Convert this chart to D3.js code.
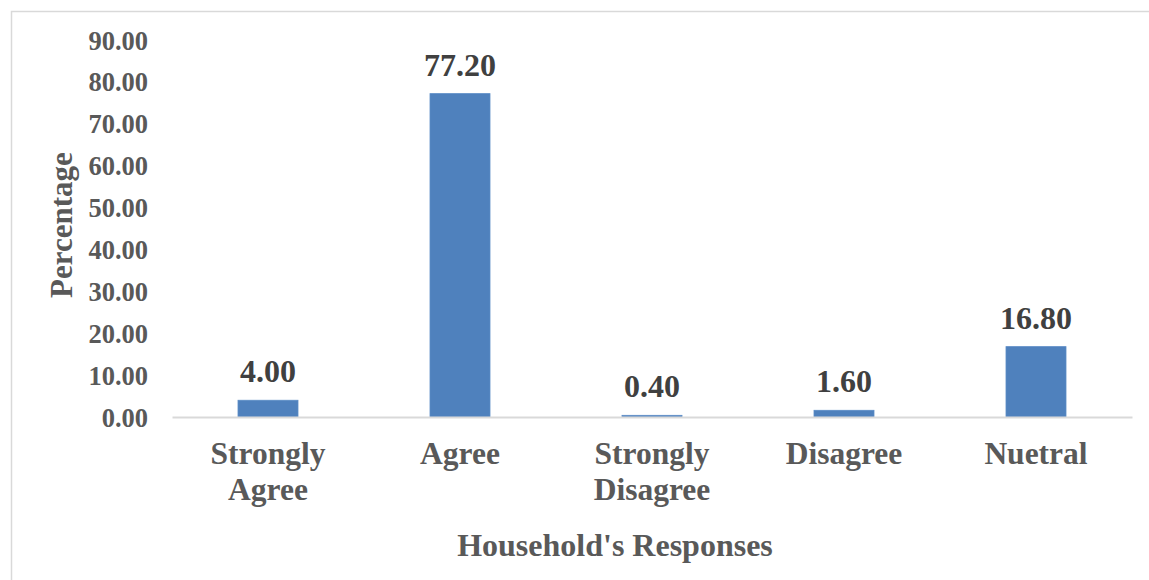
<!DOCTYPE html>
<html>
<head>
<meta charset="utf-8">
<script src="https://cdn.jsdelivr.net/npm/d3@7"></script>
<style>
  html, body { margin: 0; padding: 0; background: #ffffff; }
  svg { display: block; }
  text { font-family: "Liberation Serif", "Times New Roman", serif; font-weight: bold; }
</style>
</head>
<body>
<svg id="chart" width="1149" height="580"></svg>
<script>
// Survey responses (percent of households)
const categories = ["Strongly Agree", "Agree", "Strongly Disagree", "Disagree", "Nuetral"];
const values = [4.00, 77.20, 0.40, 1.60, 16.80];
const yTicks = [0, 10, 20, 30, 40, 50, 60, 70, 80, 90];
const xTitle = "Household's Responses";
const yTitle = "Percentage";

const svg = d3.select("#chart");
const W = 1149, H = 580;
const plot = { left: 172, right: 1132, top: 40, bottom: 417 };

// Outer chart frame
svg.append("rect")
  .attr("x", 11.5).attr("y", 11.5)
  .attr("width", W + 20).attr("height", H + 20)
  .attr("fill", "#ffffff")
  .attr("stroke", "#d9d9d9").attr("stroke-width", 1.5);

const x = d3.scaleBand()
  .domain(categories)
  .range([plot.left, plot.right])
  .paddingInner(0.6875)
  .paddingOuter(0.34375);

const y = d3.scaleLinear()
  .domain([0, 90])
  .range([plot.bottom, plot.top]);

// Y axis: labels only, no line or ticks
const yAxis = svg.append("g")
  .attr("transform", `translate(${plot.left - 24},0)`)
  .call(d3.axisLeft(y).tickValues(yTicks).tickFormat(d3.format(".2f")).tickSize(0).tickPadding(0));
yAxis.select(".domain").remove();
yAxis.selectAll("text")
  .attr("fill", "#595959")
  .style("font-size", "26.5px")
  .style("font-family", "'Liberation Serif', 'Times New Roman', serif")
  .style("font-weight", "bold")
  .attr("dy", "0.34em");

// Bars
svg.append("g").selectAll("rect")
  .data(values)
  .join("rect")
  .attr("x", (d, i) => x(categories[i]))
  .attr("width", x.bandwidth())
  .attr("y", d => y(d))
  .attr("height", d => y(0) - y(d))
  .attr("fill", "#4f81bd")
  .attr("stroke", "#5b8cc6")
  .attr("stroke-width", 0.8);

// Category axis line
const xAxis = svg.append("g")
  .attr("transform", `translate(0,${y(0)})`)
  .call(d3.axisBottom(x).tickSize(0).tickFormat(""));
xAxis.select(".domain")
  .attr("stroke", "#d9d9d9")
  .attr("stroke-width", 2);
xAxis.selectAll(".tick").remove();

// Category labels, wrapped on spaces
const catLabels = svg.append("g").selectAll("text")
  .data(categories)
  .join("text")
  .attr("x", d => x(d) + x.bandwidth() / 2)
  .attr("y", 464)
  .attr("text-anchor", "middle")
  .attr("fill", "#595959")
  .style("font-size", "31.5px");
catLabels.each(function(d) {
  const t = d3.select(this);
  d.split(" ").forEach((word, k) => {
    t.append("tspan")
      .attr("x", x(d) + x.bandwidth() / 2)
      .attr("dy", k === 0 ? 0 : 36)
      .text(word);
  });
});

// Value labels above bars
svg.append("g").selectAll("text")
  .data(values)
  .join("text")
  .attr("x", (d, i) => x(categories[i]) + x.bandwidth() / 2)
  .attr("y", d => y(d) - 18)
  .attr("text-anchor", "middle")
  .attr("fill", "#404040")
  .style("font-size", "32px")
  .text(d => d3.format(".2f")(d));

// Axis titles
svg.append("text")
  .attr("x", 615)
  .attr("y", 556)
  .attr("text-anchor", "middle")
  .attr("fill", "#595959")
  .style("font-size", "32px")
  .text(xTitle);

svg.append("text")
  .attr("transform", "translate(72,225) rotate(-90)")
  .attr("text-anchor", "middle")
  .attr("fill", "#595959")
  .style("font-size", "31px")
  .text(yTitle);
</script>
</body>
</html>
